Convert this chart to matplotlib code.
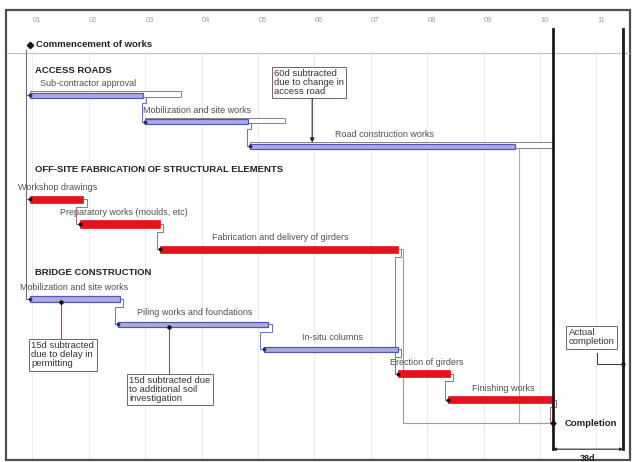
import matplotlib.pyplot as plt
from matplotlib.patches import Rectangle

# time axis in months from start of works, rows top to bottom
months = ["01", "02", "03", "04", "05", "06", "07", "08", "09", "10", "11"]

tasks = [
    "Sub-contractor approval",
    "Mobilization and site works",
    "Road construction works",
    "Workshop drawings",
    "Preparatory works (moulds, etc)",
    "Fabrication and delivery of girders",
    "Mobilization and site works",
    "Piling works and foundations",
    "In-situ columns",
    "Erection of girders",
    "Finishing works",
]
task_start = [0.38, 2.42, 4.28, 0.38, 1.26, 2.68, 0.38, 1.94, 4.52, 6.90, 7.79]
task_end = [2.38, 4.24, 8.97, 1.32, 2.68, 6.90, 1.97, 4.60, 6.90, 7.82, 9.65]
task_row = [2.98, 4.03, 4.99, 7.10, 8.09, 9.09, 11.07, 12.07, 13.06, 14.04, 15.07]
task_kind = ["blue", "blue", "blue", "red", "red", "red",
             "blue", "blue", "blue", "red", "red"]
label_x = [0.55, 2.38, 5.78, 0.16, 0.91, 3.60, 0.20, 2.27, 5.20, 6.76, 8.21]

# original (baseline) finish of the access road tasks
baseline_end = {0: 3.05, 1: 4.90, 2: 9.65}

links = [(0, 1), (1, 2), (3, 4), (4, 5), (6, 7), (7, 8), (8, 9), (5, 9), (9, 10)]

groups = ["ACCESS ROADS", "OFF-SITE FABRICATION OF STRUCTURAL ELEMENTS",
          "BRIDGE CONSTRUCTION"]
group_row = [2.0, 5.94, 10.0]

commencement = 0.38
planned_completion = 9.65
actual_completion = 10.89
completion_row = 16.0
delay_days = 38

notes = [
    ("60d subtracted\ndue to change in\naccess road", 4.70, 1.93, 5.38, 4.85, "arrow"),
    ("15d subtracted\ndue to delay in\npermitting", 0.40, 12.75, 0.93, 11.2, "dot"),
    ("15d subtracted due\nto additional soil\ninvestigation", 2.14, 14.13, 2.84, 12.2, "dot"),
]

BLUE, BLUE_EDGE = "#aaaae4", "#5858a8"
RED = "#e5121b"
NARROW = ["Liberation Sans Narrow", "Liberation Sans", "DejaVu Sans"]
SANS = ["Liberation Sans", "DejaVu Sans"]

fig = plt.figure(figsize=(6.32, 4.62), dpi=100)
ax = fig.add_axes([0, 0, 1, 1])
ax.set_xlim(-0.156, 11.05)
ax.set_ylim(17.55, -0.815)
ax.axis("off")

# frame and header
ax.add_patch(Rectangle((6 / 632, 2 / 462), 624 / 632, 450 / 462, transform=ax.transAxes,
                       fill=False, ec="#505050", lw=1.6, zorder=1))
ax.axhline(1.29, xmin=7 / 632, xmax=629 / 632, color="#cdbfbf", lw=0.8, zorder=1)
for i, m in enumerate(months):
    ax.text(i + 0.5, 0.0, m, ha="center", va="center", fontsize=5.5,
            color="#a0a0a0", family=NARROW)
    ax.plot([i + 0.42, i + 0.42], [1.29, 17.4], color="#ececec", lw=0.8, zorder=0)

# commencement
ax.plot(commencement, 0.97, marker="D", ms=3.2, color="#111", zorder=5)
ax.text(commencement + 0.1, 0.97, "Commencement of works", fontsize=6.8,
        fontweight="bold", va="center", color="#222", family=SANS)
ax.plot([0.305, 0.305], [1.17, task_row[6]], color="#707070", lw=0.8, zorder=2)
for i in (0, 3, 6):
    ax.plot([0.305, task_start[i]], [task_row[i], task_row[i]], color="#707070", lw=0.8)

for name, r in zip(groups, group_row):
    ax.text(0.465, r, name, fontsize=6.8, fontweight="bold", va="center",
            color="#222", family=SANS)

# baselines
for i, be in baseline_end.items():
    ax.add_patch(Rectangle((task_start[i], task_row[i] - 0.17), be - task_start[i], 0.23,
                           fc="white", ec="#707070", lw=0.6, zorder=3))


# finish-to-start link drawn as a small S step
def link(x1, y1, x2, y2, color):
    xs = [x1, x1 + 0.06, x1 + 0.06, x2 - 0.06, x2 - 0.06, x2]
    mid = y1 + 0.3
    ys = [y1, y1, mid, mid, y2, y2]
    ax.plot(xs, ys, color=color, lw=0.7, zorder=2)


for a, b in links:
    col = "#7070b0" if task_kind[a] == "blue" else "#a07070"
    link(task_end[a], task_row[a], task_start[b], task_row[b], col)
link(task_end[10], task_row[10], planned_completion, completion_row, "#a07070")

# long links into completion
ax.plot([task_end[2], 9.05, 9.05, planned_completion],
        [task_row[2], task_row[2], completion_row, completion_row],
        color="#a8a8d8", lw=0.8, zorder=2)
ax.plot([task_end[5], 6.99, 6.99, planned_completion],
        [task_row[5], task_row[5], completion_row, completion_row],
        color="#c09090", lw=0.8, zorder=2)

# task bars
for i, name in enumerate(tasks):
    if task_kind[i] == "blue":
        ax.add_patch(Rectangle((task_start[i], task_row[i] - 0.1), task_end[i] - task_start[i], 0.2,
                               fc=BLUE, ec=BLUE_EDGE, lw=0.9, zorder=4))
        dot = "#2b2b80"
    else:
        ax.add_patch(Rectangle((task_start[i], task_row[i] - 0.14), task_end[i] - task_start[i], 0.28,
                               fc=RED, ec=RED, lw=0.5, zorder=4))
        dot = "#111"
    ax.plot(task_start[i], task_row[i], marker="o", ms=1.8, color=dot, zorder=5)
    ax.text(label_x[i], task_row[i] - 0.46, name, fontsize=6.5, va="center",
            color="#505050", family=NARROW)

# notes
for txt, nx, ny, px, py, kind in notes:
    ax.text(nx, ny, txt, fontsize=6.8, va="top", ha="left", color="#333",
            linespacing=1.0, family=NARROW,
            bbox=dict(boxstyle="square,pad=0.25", fc="white", ec="#806060", lw=0.7))
    if kind == "arrow":
        ax.annotate("", xy=(px, py), xytext=(px, 3.1),
                    arrowprops=dict(arrowstyle="-|>", color="#222", lw=0.8,
                                    mutation_scale=6, shrinkA=0, shrinkB=0))
    else:
        ax.plot([px, px], [ny - 0.1, py], color="#806060", lw=0.8, zorder=3)
        ax.plot(px, py, marker="o", ms=2.2, color="#111", zorder=5)

# completion window
for x in (planned_completion, actual_completion):
    ax.plot([x, x], [0.34, 17.04], color="#1a1a1a", lw=2.0, zorder=6)
ax.plot(planned_completion, completion_row, marker="D", ms=2.5, color="#111", zorder=7)
ax.text(planned_completion + 0.21, completion_row, "Completion", fontsize=6.8,
        fontweight="bold", va="center", color="#222", family=SANS)
ax.text(9.93, 12.24, "Actual\ncompletion", fontsize=6.8, va="top", color="#333",
        linespacing=1.0, family=NARROW,
        bbox=dict(boxstyle="square,pad=0.25", fc="white", ec="#806060", lw=0.7))
ax.plot([10.43, 10.43, actual_completion], [13.22, 13.66, 13.66], color="#333", lw=0.7)
ax.plot(actual_completion, 13.66, marker="o", ms=2, color="#111", zorder=7)
ax.annotate("", xy=(planned_completion, 17.04), xytext=(actual_completion, 17.04),
            arrowprops=dict(arrowstyle="<|-|>", color="#222", lw=0.8,
                            mutation_scale=4, shrinkA=0, shrinkB=0))
ax.text((planned_completion + actual_completion) / 2, 17.42, f"{delay_days}d",
        fontsize=6.5, fontweight="bold", ha="center", va="center", color="#222",
        family=SANS)

fig.savefig("out.png", dpi=100)
